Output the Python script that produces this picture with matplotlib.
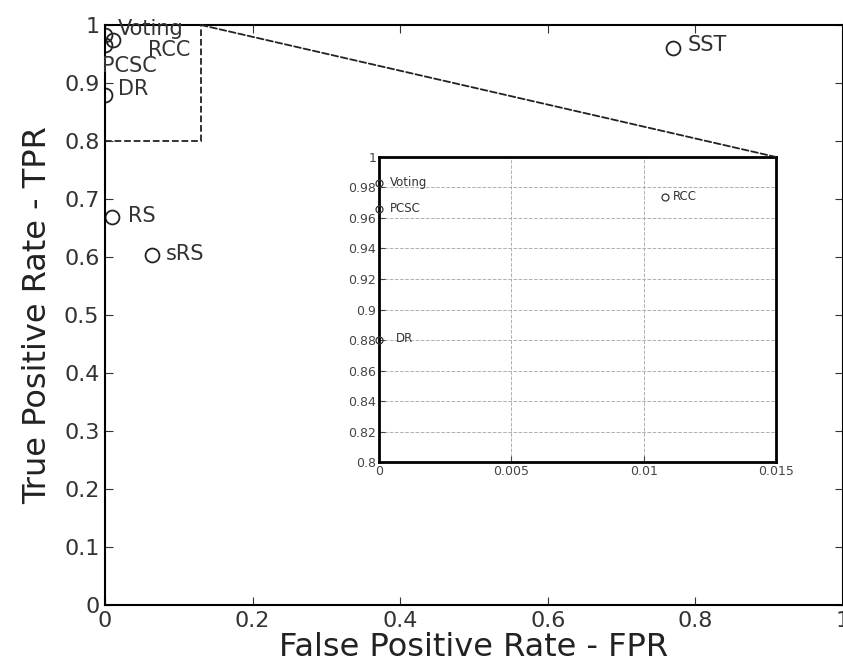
import numpy as np
import matplotlib
matplotlib.use('Agg')
import matplotlib.pyplot as plt
from matplotlib.patches import Rectangle, ConnectionPatch

"----------------------------------- Data -----------------------------------"

names = ['Voting', 'RCC', 'PCSC', 'DR', 'SST', 'RS', 'sRS']
fpr = [0.0, 0.0108, 0.0, 0.0, 0.769, 0.01, 0.064]
tpr = [0.983, 0.974, 0.966, 0.88, 0.96, 0.669, 0.603]

# label offsets in points (main plot)
main_offsets = [(9, 4), (25, -7), (-2, -15), (9, 4), (11, 2), (11, 1), (10, 1)]

inset_names = ['Voting', 'PCSC', 'RCC', 'DR']
inset_fpr = [0.0, 0.0, 0.0108, 0.0]
inset_tpr = [0.983, 0.966, 0.974, 0.88]
inset_offsets = [(8, 0), (8, 0), (6, 0), (12, 1)]

main_xticks = [0, 0.2, 0.4, 0.6, 0.8, 1]
main_xlabels = ['0', '0.2', '0.4', '0.6', '0.8', '1']
main_yticks = [0, 0.1, 0.2, 0.3, 0.4, 0.5, 0.6, 0.7, 0.8, 0.9, 1]
main_ylabels = ['0', '0.1', '0.2', '0.3', '0.4', '0.5', '0.6', '0.7', '0.8', '0.9', '1']
ins_xticks = [0, 0.005, 0.01, 0.015]
ins_xlabels = ['0', '0.005', '0.01', '0.015']
ins_yticks = [0.8, 0.82, 0.84, 0.86, 0.88, 0.9, 0.92, 0.94, 0.96, 0.98, 1]
ins_ylabels = ['0.8', '0.82', '0.84', '0.86', '0.88', '0.9', '0.92', '0.94', '0.96', '0.98', '1']

zoom_box = (0.0, 0.8, 0.13, 0.2)

"---------------------------------- Figure ----------------------------------"

plt.rcParams['font.family'] = ['DejaVu Sans']
fig = plt.figure(figsize=(8.43, 6.7), dpi=100)
ax = fig.add_axes([0.1246, 0.097, 0.8754, 0.8657])

ax.plot(fpr, tpr, 'o', mfc='none', mec='#222222', ms=10, mew=1.3)
for n, x, y, off in zip(names, fpr, tpr, main_offsets):
    ax.annotate(n, (x, y), xytext=off, textcoords='offset points',
                fontsize=15, va='center', ha='left', color='#333333')

ax.set_xlim(0, 1)
ax.set_ylim(0, 1)
ax.set_xticks(main_xticks)
ax.set_xticklabels(main_xlabels)
ax.set_yticks(main_yticks)
ax.set_yticklabels(main_ylabels)
ax.tick_params(direction='in', top=True, right=True, labelsize=16,
               length=6, colors='#333333', pad=4)
for s in ax.spines.values():
    s.set_linewidth(1.5)
ax.set_xlabel('False Positive Rate - FPR', fontsize=23, color='#222222', labelpad=1)
ax.set_ylabel('True Positive Rate - TPR', fontsize=23, color='#222222', labelpad=8)

ax.add_patch(Rectangle(zoom_box[:2], zoom_box[2], zoom_box[3], fill=False,
                       ls='--', lw=1.3, ec='#222222'))

# inset
axins = fig.add_axes([0.4496, 0.3104, 0.4709, 0.4553])
axins.plot(inset_fpr, inset_tpr, 'o', mfc='none', mec='#333333', ms=5, mew=0.9,
           clip_on=False, zorder=5)
for n, x, y, off in zip(inset_names, inset_fpr, inset_tpr, inset_offsets):
    axins.annotate(n, (x, y), xytext=off, textcoords='offset points',
                   fontsize=8.5, va='center', ha='left', color='#333333')
axins.set_xlim(0, 0.015)
axins.set_ylim(0.8, 1)
axins.set_xticks(ins_xticks)
axins.set_xticklabels(ins_xlabels)
axins.set_yticks(ins_yticks)
axins.set_yticklabels(ins_ylabels)
axins.tick_params(direction='in', labelsize=9, length=4, colors='#444444', pad=2)
axins.grid(True, ls='--', lw=0.7, color='#b0b0b0')
for s in axins.spines.values():
    s.set_linewidth(2)

con = ConnectionPatch(xyA=(zoom_box[0] + zoom_box[2], zoom_box[1] + zoom_box[3]),
                      coordsA=ax.transData, xyB=(1, 1), coordsB=axins.transAxes,
                      ls='--', lw=1.3, color='#222222')
fig.add_artist(con)

fig.savefig('out.png', dpi=100)
